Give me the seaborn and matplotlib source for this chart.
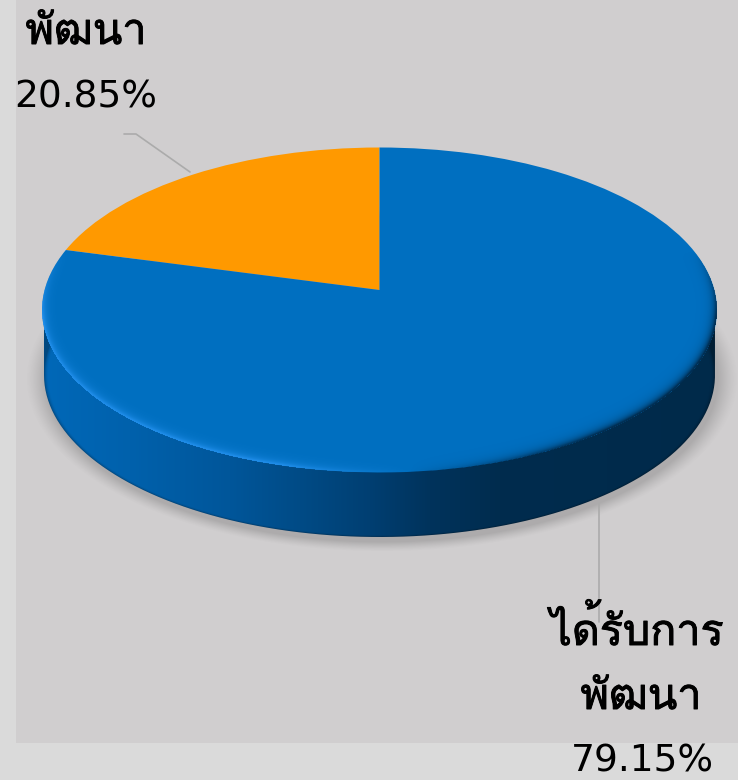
import numpy as np
import matplotlib
matplotlib.use("Agg")
import matplotlib.pyplot as plt
import matplotlib.patheffects as pe
from matplotlib.colors import to_rgb
from matplotlib.path import Path
from matplotlib.patches import PathPatch
from matplotlib.transforms import Transform, Affine2D
import seaborn as sns

# ---- data ----
categories = ["พัฒนา", "ได้รับการ\nพัฒนา"]
values = [20.85, 79.15]
value_labels = ["20.85%", "79.15%"]
slice_colors = ["#FF9900", "#006FC0"]

# ---- style ----
page_color = "#DADADA"
panel_color = "#D0CECF"
leader_color = "#ABABAB"
W, H = 738, 780
PANEL_L, PANEL_B = 16, 743
CX, CY, RX, RY = 379.5, 310.0, 337.5, 162.5
WALL_CX, WALL_CY, WALL_RX, WALL_RY = 379.5, 375.0, 335.5, 162.0
TILT = 0.123

sns.set_theme(style="white")
palette = sns.color_palette(slice_colors)


class Tilt(Transform):
    """Perspective of the disc: the rim stays a circle, its centre moves up."""
    input_dims = output_dims = 2
    is_separable = False
    has_inverse = False

    def __init__(self, a):
        super().__init__()
        self.a = a

    def transform_non_affine(self, xy):
        xy = np.asarray(xy, float)
        q = 1 + self.a * xy[:, 1]
        return np.column_stack([xy[:, 0] * np.sqrt(1 - self.a ** 2) / q,
                                (xy[:, 1] + self.a) / q])


fig = plt.figure(figsize=(W / 100, H / 100), dpi=100, facecolor=page_color)
ax = fig.add_axes([PANEL_L / W, (H - PANEL_B) / H, (W - PANEL_L) / W, PANEL_B / H])

# pixel grid for the shaded parts of the 3-D disc
gx, gy = np.meshgrid(np.arange(0, W) + .5, np.arange(0, H) + .5)
extent = (0, W, H, 0)

# soft shadow
rs = np.hypot((gx - 382) / 336, (gy - 379) / 163)
shadow = np.zeros(gx.shape + (4,))
shadow[..., :3] = 0.25
shadow[..., 3] = 0.24 * np.clip(1 - (rs - 1) / 0.06, 0, 1) ** 1.3
ax.imshow(shadow, extent=extent, aspect="auto", zorder=1, interpolation="bilinear")

# side wall with horizontal gradient
stop_x = [45, 130, 230, 300, 370, 430, 500, 714]
stop_c = ["#0068B8", "#0061AC", "#00569A", "#004B86", "#003F72", "#00335C", "#002C4E", "#002A4A"]
stop_rgb = np.array([to_rgb(c) for c in stop_c])
wall = np.dstack([np.interp(gx, stop_x, stop_rgb[:, i]) for i in range(3)])
rw = np.hypot((gx - WALL_CX) / WALL_RX, (gy - WALL_CY) / WALL_RY)
wall *= (1 - 0.3 * np.clip((rw - 0.985) / 0.015, 0, 1) ** 2)[..., None]
t = np.linspace(0, np.pi, 200)
outline = np.column_stack([WALL_CX + WALL_RX * np.cos(t), WALL_CY + WALL_RY * np.sin(t)])
outline = np.vstack([[WALL_CX + WALL_RX, CY], outline, [WALL_CX - WALL_RX, CY], [WALL_CX + WALL_RX, CY]])
wall_clip = PathPatch(Path(outline), transform=ax.transData, fc="none", ec="none")
ax.add_patch(wall_clip)
im_wall = ax.imshow(wall, extent=extent, aspect="auto", zorder=2, interpolation="bilinear")
im_wall.set_clip_path(wall_clip)

# top face: pie drawn on the unit disc, then projected
wedges, _ = ax.pie(values, colors=palette, startangle=90, counterclock=True, radius=1,
                   center=(0, 0), frame=False, wedgeprops=dict(linewidth=0))
disc_to_px = Affine2D().scale(RX, -RY).translate(CX, CY)
for w in wedges:
    w.set_transform(Tilt(TILT) + disc_to_px + ax.transData)
    w.set_zorder(3)
    w.set_clip_on(False)

# rim shading of the top face
u = (gx - CX) / RX
v = (gy - CY) / RY
r = np.hypot(u, v)
grad = np.hypot(u / RX, v / RY) / np.maximum(r, 1e-6)
d = (1 - r) / np.maximum(grad, 1e-6)
strength = np.where(d > 0, np.exp(-np.maximum(d - 1.0, 0) / 3.8), 0)
side = np.clip(-u * 1.1 + 0.10, -1, 1)
fade = np.clip((v + 0.36) / 0.4, 0, 1)
light = np.array(to_rgb("#2A97F7"))
dark = np.array(to_rgb("#00294A"))
rim = np.zeros(gx.shape + (4,))
rim[..., :3] = np.where((side > 0)[..., None], light, dark)
weight = np.where(side > 0, np.clip(side * 2.4, 0, 1) * 0.72, np.clip(-side * 1.6, 0, 1) * 0.9)
rim[..., 3] = strength * weight * fade
ax.imshow(rim, extent=extent, aspect="auto", zorder=4, interpolation="bilinear")

# leader lines
ax.plot([124, 136, 190], [134, 134, 172], color=leader_color, lw=1.2, zorder=5, clip_on=False)
ax.plot([599, 599], [503, 622], color=leader_color, lw=1.2, zorder=5, clip_on=False)

# labels
thicken = [pe.withStroke(linewidth=0.7, foreground="black")]
thai = dict(family=["Loma", "DejaVu Sans"], fontsize=31, color="black", ha="center", va="baseline",
            zorder=6, clip_on=False, path_effects=thicken)
num = dict(family="DejaVu Sans", fontsize=27, color="black", ha="center", va="baseline",
           zorder=6, clip_on=False)
ax.text(86, 44, categories[0], **thai)
ax.text(86, 108, value_labels[0], **num)
first, second = categories[1].split("\n")
ax.text(637, 645, first, **thai)
ax.text(641, 709, second, **thai)
ax.text(642, 771, value_labels[1], **num)

ax.set_aspect("auto")
ax.set_xlim(PANEL_L, W)
ax.set_ylim(PANEL_B, 0)
ax.set_xticks([])
ax.set_yticks([])
ax.set_frame_on(True)
ax.set_facecolor(panel_color)
for s in ax.spines.values():
    s.set_visible(False)

fig.savefig("out.png", dpi=100, facecolor=page_color)
